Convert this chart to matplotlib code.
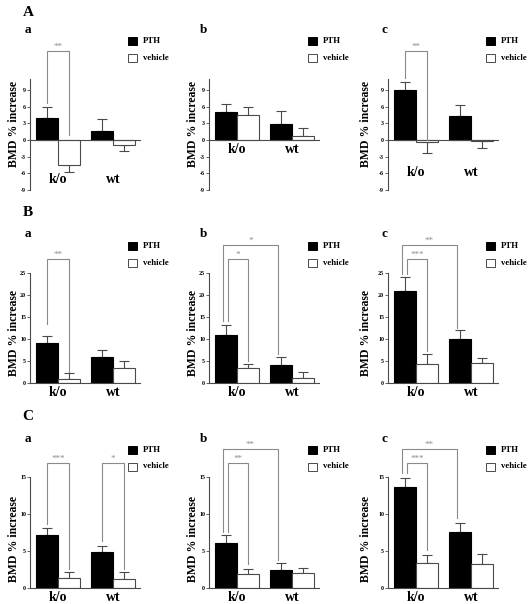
import matplotlib
matplotlib.use('Agg')
import matplotlib.pyplot as plt
from matplotlib.patches import Rectangle

# ---- data (BMD % increase, mean and SEM) ----
groups = ['k/o', 'wt']
panels = ['a', 'b', 'c']

A_pth = [[3.9, 1.6], [5.1, 2.8], [9.0, 4.3]]
A_pth_sem = [[2.0, 2.1], [1.3, 2.4], [1.5, 2.0]]
A_veh = [[-4.5, -0.9], [4.5, 0.8], [-0.3, -0.1]]
A_veh_sem = [[1.2, 1.0], [1.5, 1.3], [2.0, 1.4]]

B_pth = [[9.0, 5.8], [10.9, 4.0], [20.9, 9.9]]
B_pth_sem = [[1.6, 1.6], [2.2, 1.8], [3.2, 2.1]]
B_veh = [[0.9, 3.4], [3.3, 1.1], [4.4, 4.5]]
B_veh_sem = [[1.3, 1.7], [1.0, 1.5], [2.2, 1.2]]

C_pth = [[7.2, 4.9], [6.1, 2.5], [13.7, 7.6]]
C_pth_sem = [[0.9, 0.8], [1.0, 0.9], [1.2, 1.2]]
C_veh = [[1.4, 1.2], [1.9, 2.0], [3.4, 3.2]]
C_veh_sem = [[0.8, 1.0], [0.7, 0.7], [1.1, 1.4]]

# significance brackets: (panel, left bar, right bar, top, left leg end, right leg end, label)
# bars: 0 = PTH k/o, 1 = vehicle k/o, 2 = PTH wt, 3 = vehicle wt
A_sig = [(0, 0, 1, 16.0, 6.6, 0.9, '**'),
         (2, 0, 1, 16.0, 11.2, 0.0, '**')]
B_sig = [(0, 0, 1, 28.2, 13.5, 2.6, '**'),
         (1, 0, 2, 31.4, 14.0, 6.5, '*'),
         (1, 0, 1, 28.2, 14.0, 5.0, '*'),
         (2, 0, 2, 31.4, 24.8, 12.6, '**'),
         (2, 0, 1, 28.2, 24.8, 7.2, '***')]
C_sig = [(0, 0, 1, 16.9, 8.7, 2.6, '***'),
         (0, 2, 3, 16.9, 6.4, 2.6, '*'),
         (1, 0, 2, 18.8, 7.6, 3.8, '**'),
         (1, 0, 1, 16.9, 7.6, 3.2, '**'),
         (2, 0, 2, 18.8, 15.5, 9.4, '**'),
         (2, 0, 1, 16.9, 15.5, 5.1, '***')]

W, H = 528, 604
SERIF = 'Liberation Serif'
AXC = '#4a4a4a'
GRAY = '#8a8a8a'

fig = plt.figure(figsize=(W / 100, H / 100), dpi=100)


def fx(x):
    return x / W


def fy(y):
    return 1 - y / H


col_left = [30, 209, 388]
col_ylab = [14, 193, 366]
col_letter = [28, 203, 384]
col_leg = [128, 308, 486]

# row layout: axes top/bottom px, ylim, spine bounds, ticks, label y, ylabel y, letter y, legend y
rows = [
    dict(name='A', pth=A_pth, pth_sem=A_pth_sem, veh=A_veh, veh_sem=A_veh_sem, sig=A_sig,
         top=40, bottom=190, ylim=(-9, 18), bounds=(-9, 11), ticks=[-9, -6, -3, 0, 3, 6, 9],
         cat_y=[-7.2, -1.8, -5.9], ylab_y=124, big_y=13, let_y=30, leg_y=41),
    dict(name='B', pth=B_pth, pth_sem=B_pth_sem, veh=B_veh, veh_sem=B_veh_sem, sig=B_sig,
         top=383 - 34 * 4.4, bottom=383, ylim=(0, 34), bounds=(0, 25), ticks=[0, 5, 10, 15, 20, 25],
         cat_y=[-2.1, -2.1, -2.1], ylab_y=333, big_y=212, let_y=234, leg_y=246),
    dict(name='C', pth=C_pth, pth_sem=C_pth_sem, veh=C_veh, veh_sem=C_veh_sem, sig=C_sig,
         top=588 - 20 * 7.4, bottom=588, ylim=(0, 20), bounds=(0, 15), ticks=[0, 5, 10, 15],
         cat_y=[-1.25, -1.25, -1.25], ylab_y=539, big_y=417, let_y=439, leg_y=450),
]

bw = 0.39
xpos = [-0.2, 0.2, 0.8, 1.2]

for r in rows:
    fig.text(fx(28), fy(r['big_y']), r['name'], family=SERIF, fontweight='bold',
             fontsize=11, ha='center', va='center')
    for c in range(3):
        ax = fig.add_axes([fx(col_left[c]), fy(r['bottom']), 110 / W, (r['bottom'] - r['top']) / H])
        ax.set_xlim(-0.51, 1.49)
        ax.set_ylim(*r['ylim'])
        ax.patch.set_alpha(0)

        means = [r['pth'][c][0], r['veh'][c][0], r['pth'][c][1], r['veh'][c][1]]
        sems = [r['pth_sem'][c][0], r['veh_sem'][c][0], r['pth_sem'][c][1], r['veh_sem'][c][1]]
        for i in range(4):
            m = means[i]
            s = sems[i]
            if i % 2 == 0:
                ax.bar(xpos[i], m, bw, color='black', edgecolor='black', linewidth=0.8, zorder=2)
            else:
                ax.bar(xpos[i], m, bw, color='white', edgecolor=AXC, linewidth=0.8, zorder=2)
            yerr = [[0], [s]] if m >= 0 else [[s], [0]]
            ax.errorbar(xpos[i], m, yerr=yerr, fmt='none', ecolor=AXC, elinewidth=0.8,
                        capsize=3.6, capthick=0.8, zorder=1)

        for sg in r['sig']:
            if sg[0] != c:
                continue
            xl = xpos[sg[1]]
            xr = xpos[sg[2]]
            if sg[2] == 2:
                xl -= 0.06
                xr -= 0.05
            elif any(o[0] == c and o[2] == 2 for o in r['sig']):
                xl += 0.04
            ax.plot([xl, xl, xr, xr], [sg[4], sg[3], sg[3], sg[5]], color=GRAY,
                    linewidth=0.8, clip_on=False, zorder=3)
            ax.text((xl + xr) / 2, sg[3], sg[6], color=GRAY, fontsize=6.5, family=SERIF,
                    ha='center', va='bottom')

        for sp in ['top', 'right']:
            ax.spines[sp].set_visible(False)
        ax.spines['left'].set_bounds(*r['bounds'])
        ax.spines['left'].set_color(AXC)
        ax.spines['left'].set_linewidth(0.8)
        ax.spines['bottom'].set_position(('data', 0))
        ax.spines['bottom'].set_color(AXC)
        ax.spines['bottom'].set_linewidth(0.8)
        ax.set_xticks([])
        ax.set_yticks(r['ticks'])
        ax.set_yticklabels([str(t) for t in r['ticks']], family=SERIF, fontweight='bold', fontsize=4.3)
        ax.tick_params(axis='y', direction='out', length=2, width=0.6, color=AXC, pad=0.8)

        for g in range(2):
            ax.text(g, r['cat_y'][c], groups[g], family=SERIF, fontweight='bold', fontsize=10,
                    ha='center', va='center')

        fig.text(fx(col_ylab[c]), fy(r['ylab_y']), 'BMD % increase', rotation=90,
                 family=SERIF, fontweight='bold', fontsize=8.5, ha='center', va='center')
        fig.text(fx(col_letter[c]), fy(r['let_y']), panels[c], family=SERIF,
                 fontweight='bold', fontsize=9.5, ha='center', va='center')

        # legend
        for k, (lab, fc) in enumerate([('PTH', 'black'), ('vehicle', 'white')]):
            yc = r['leg_y'] + 16.5 * k
            fig.patches.append(Rectangle((fx(col_leg[c]), fy(yc + 4)), 9 / W, 8 / H,
                                         facecolor=fc, edgecolor=AXC if k else 'black',
                                         linewidth=0.7, transform=fig.transFigure))
            fig.text(fx(col_leg[c] + 15), fy(yc), lab, family=SERIF, fontweight='bold',
                     fontsize=6.3, ha='left', va='center')

fig.savefig('out.png', dpi=100, facecolor='white')
